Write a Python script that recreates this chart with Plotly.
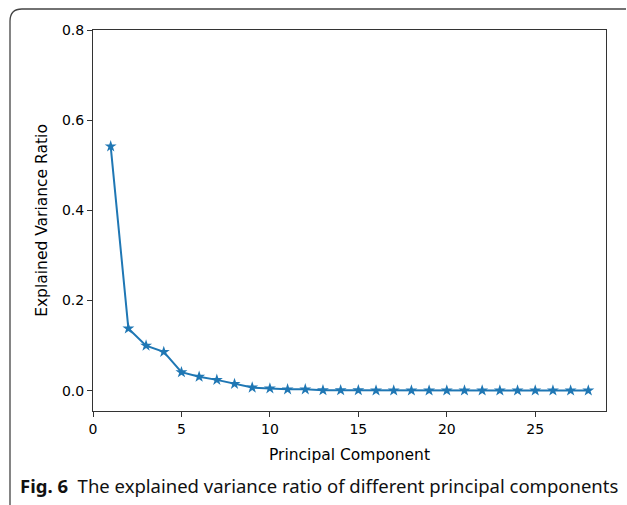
import plotly.graph_objects as go

components = list(range(1, 29))
variance_ratio = [0.542, 0.138, 0.100, 0.086, 0.041, 0.031, 0.024, 0.015, 0.007, 0.005,
                  0.003, 0.003, 0.001, 0.001, 0.001, 0.0005, 0.0005, 0.0005, 0.0005, 0.0005,
                  0.0005, 0.0005, 0.0005, 0.0005, 0.0005, 0.0005, 0.0005, 0.0005]
x_ticks = [0, 5, 10, 15, 20, 25]
y_ticks = [0.0, 0.2, 0.4, 0.6, 0.8]
y_tick_labels = ["0.0", "0.2", "0.4", "0.6", "0.8"]

W, H = 627, 505
ML, MR, MT, MB = 93, 21, 30, 94
PW, PH = W - ML - MR, H - MT - MB

def px(x):
    return (x - ML) / PW

def py(y):
    return 1 - (y - MT) / PH

fig = go.Figure()
fig.add_trace(go.Scatter(
    x=components, y=variance_ratio, mode="lines+markers",
    line=dict(color="#1f77b4", width=2),
    marker=dict(symbol="star", size=9, color="#1f77b4"),
    showlegend=False,
))

tick_font = dict(family="DejaVu Sans", size=14, color="#000000")
title_font = dict(family="DejaVu Sans", size=15.5, color="#000000")
fig.update_xaxes(
    range=[0, 29], tickvals=x_ticks, ticks="outside", ticklen=5, tickcolor="#333",
    showline=True, linecolor="#333", linewidth=1, mirror=True, showgrid=False, zeroline=False,
    tickfont=tick_font, title=dict(text="Principal Component", font=title_font, standoff=13),
)
fig.update_yaxes(
    range=[-0.045, 0.8], tickvals=y_ticks, ticktext=y_tick_labels, ticks="outside", ticklen=5,
    tickcolor="#333", showline=True, linecolor="#333", linewidth=1, mirror=True, showgrid=False,
    zeroline=False, tickfont=tick_font,
    title=dict(text="Explained Variance Ratio", font=title_font, standoff=10),
)

# outer rounded frame
x0, y0, r = 10, 9, 12
path = (f"M {px(x0)},{py(H + 5)} L {px(x0)},{py(y0 + r)} "
        f"Q {px(x0)},{py(y0)} {px(x0 + r)},{py(y0)} L {px(626)},{py(y0)}")
fig.add_shape(type="path", path=path, xref="paper", yref="paper",
              line=dict(color="#444", width=1.3))

fig.add_annotation(
    x=px(18), y=py(485), xref="paper", yref="paper", xanchor="left", yanchor="middle",
    showarrow=False,
    text="<b>Fig. 6</b>  The explained variance ratio of different principal components",
    font=dict(family="Noto Sans", size=18.5, color="#111"),
)

fig.update_layout(
    width=W, height=H, margin=dict(l=ML, r=MR, t=MT, b=MB),
    paper_bgcolor="white", plot_bgcolor="white",
)
fig.write_html("out.html")
